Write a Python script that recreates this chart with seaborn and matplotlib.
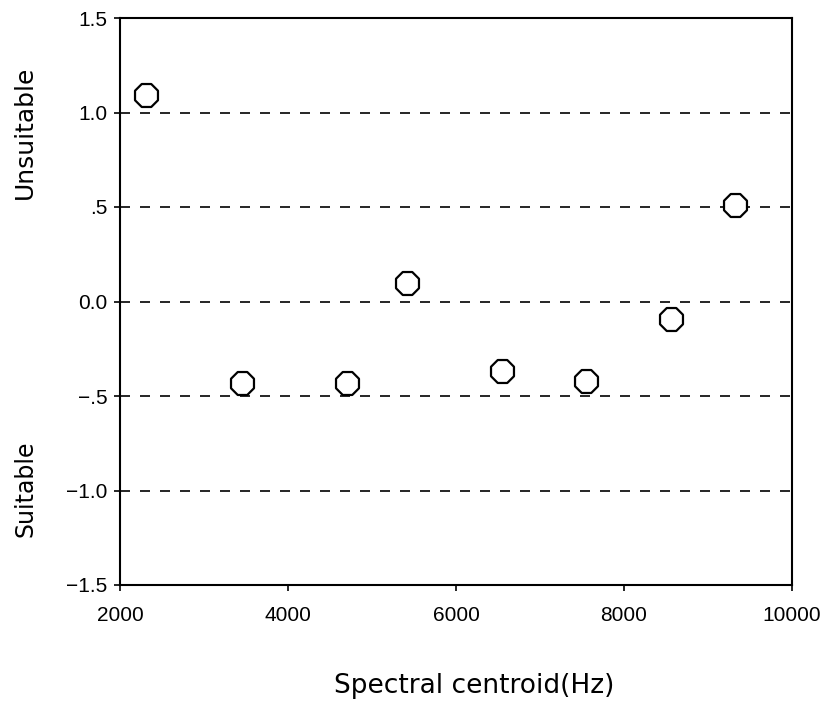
import matplotlib
matplotlib.use("Agg")
import matplotlib.pyplot as plt
import seaborn as sns
import pandas as pd

centroid_hz = [2310, 3452, 4702, 5417, 6548, 7548, 8560, 9321]
rating = [1.09, -0.43, -0.43, 0.10, -0.37, -0.42, -0.09, 0.51]
x_ticks = [2000, 4000, 6000, 8000, 10000]
y_ticks = [-1.5, -1.0, -0.5, 0.0, 0.5, 1.0, 1.5]
y_tick_labels = ["\u22121.5", "\u22121.0", "\u2212.5", "0.0", ".5", "1.0", "1.5"]
grid_levels = [-1.0, -0.5, 0.0, 0.5, 1.0]

sns.set_theme(style="white")
plt.rcParams['font.family'] = ['Liberation Sans', 'DejaVu Sans']
plt.rcParams['text.color'] = 'black'

df = pd.DataFrame({"centroid": centroid_hz, "rating": rating})

fig = plt.figure(figsize=(8.25, 7.02), dpi=100)
ax = fig.add_axes([120/825, 1-585/702, 672/825, 567/702])

for lv in grid_levels:
    ax.axhline(lv, color="black", linestyle=(0, (6, 6)), linewidth=1.2, zorder=1)

sns.scatterplot(data=df, x="centroid", y="rating", ax=ax, marker="8", s=320,
                facecolor="white", edgecolor="black", linewidth=1.6, zorder=3)

ax.set_xlim(2000, 10000)
ax.set_ylim(-1.5, 1.5)
ax.set_xticks(x_ticks)
ax.set_xticklabels([str(t) for t in x_ticks])
ax.set_yticks(y_ticks)
ax.set_yticklabels(y_tick_labels)
ax.tick_params(axis="both", which="both", direction="out", length=4, width=1.2,
               color="black", labelsize=15, labelcolor="black", pad=5, left=True, bottom=True)
ax.tick_params(axis="x", pad=11)
for s in ax.spines.values():
    s.set_color("black")
    s.set_linewidth(1.5)
    s.set_visible(True)

ax.set_xlabel("")
ax.set_ylabel("")
lab_font = ['DejaVu Sans']
fig.text(474/825, 1-686/702, "Spectral centroid(Hz)", ha="center", va="center",
         fontsize=19, family=lab_font, color="black")
fig.text(25/825, 1-132/702, "Unsuitable", ha="center", va="center", rotation=90,
         fontsize=18, family=lab_font, color="black")
fig.text(25/825, 1-489/702, "Suitable", ha="center", va="center", rotation=90,
         fontsize=17, family=lab_font, color="black")

fig.savefig("out.png", dpi=100)
